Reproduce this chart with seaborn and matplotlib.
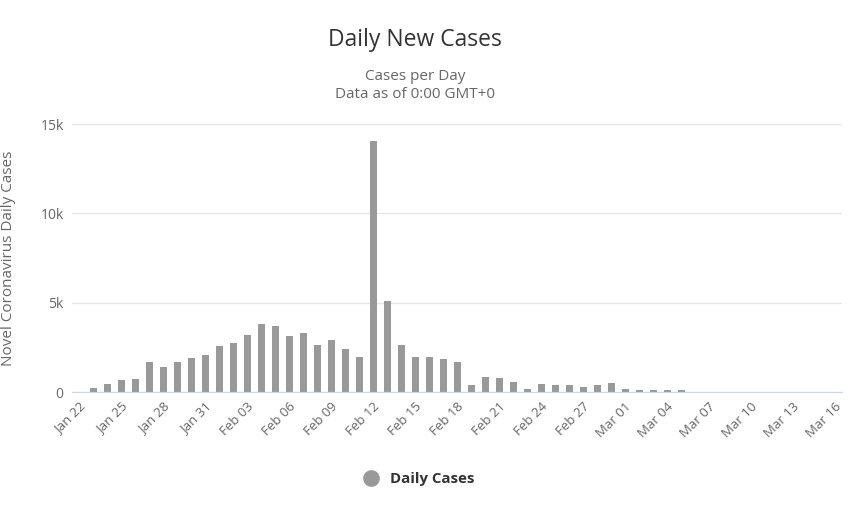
import datetime as dt
import matplotlib
matplotlib.use("Agg")
import matplotlib.pyplot as plt
from matplotlib.lines import Line2D
import pandas as pd
import seaborn as sns

# daily new cases, Jan 22 .. Mar 16
dates = [dt.date(2020, 1, 22) + dt.timedelta(days=i) for i in range(55)]
labels = [d.strftime("%b %d") for d in dates]
cases = [0, 245, 450, 655, 730, 1700, 1420, 1700, 1930, 2080,
         2550, 2750, 3180, 3820, 3670, 3110, 3330, 2620, 2900, 2420,
         1985, 14060, 5075, 2620, 1985, 1985, 1850, 1700, 375, 860,
         790, 580, 170, 450, 375, 375, 300, 375, 505, 170,
         95, 95, 95, 95, 0, 0, 0, 0, 0, 0,
         0, 0, 0, 0, 0]

df = pd.DataFrame({"date": labels, "cases": cases})

sns.set_style("white")
plt.rcParams["font.family"] = ["Open Sans", "DejaVu Sans"]

fig = plt.figure(figsize=(8.65, 5.08), dpi=100)
ax = fig.add_axes([72 / 865, 1 - 392 / 508, 770 / 865, 268 / 508])

sns.barplot(data=df, x="date", y="cases", color="#999999", width=0.5,
            saturation=1, linewidth=0, ax=ax)

ax.set_xlim(-0.5, len(labels) - 0.5)
ax.set_ylim(0, 15000)
ax.set_yticks([0, 5000, 10000, 15000])
ax.set_yticklabels(["0", "5k", "10k", "15k"], color="#666666", fontsize=10)
ax.set_xticks(range(0, len(labels), 3))
ax.set_xticklabels(labels[::3], rotation=45, ha="right", rotation_mode="anchor",
                   color="#666666", fontsize=9.5)
ax.tick_params(axis="both", length=0, pad=6)
ax.yaxis.grid(True, color="#e6e6e6", lw=1)
ax.set_axisbelow(True)
for s in ["top", "right", "left"]:
    ax.spines[s].set_visible(False)
ax.spines["bottom"].set_color("#ccd6eb")
ax.set_xlabel("")
ax.set_ylabel("")

fig.text(9 / 865, 1 - 258 / 508, "Novel Coronavirus Daily Cases", rotation=90,
         ha="center", va="center", color="#666666", fontsize=11)

fig.text(415 / 865, 1 - 40 / 508, "Daily New Cases", ha="center", va="center",
         color="#333333", fontsize=16.5)
fig.text(415 / 865, 1 - 76 / 508, "Cases per Day", ha="center", va="center",
         color="#666666", fontsize=11)
fig.text(415 / 865, 1 - 95 / 508, "Data as of 0:00 GMT+0", ha="center", va="center",
         color="#666666", fontsize=11)

handle = Line2D([], [], marker="o", color="#999999", lw=0, markersize=11)
leg = fig.legend([handle], ["Daily Cases"], loc="center", bbox_to_anchor=(415 / 865, 1 - 479 / 508),
                 frameon=False, handletextpad=0.3, prop={"weight": "bold", "size": 10.8})
for t in leg.get_texts():
    t.set_color("#333333")

fig.savefig("out.png", dpi=100)
